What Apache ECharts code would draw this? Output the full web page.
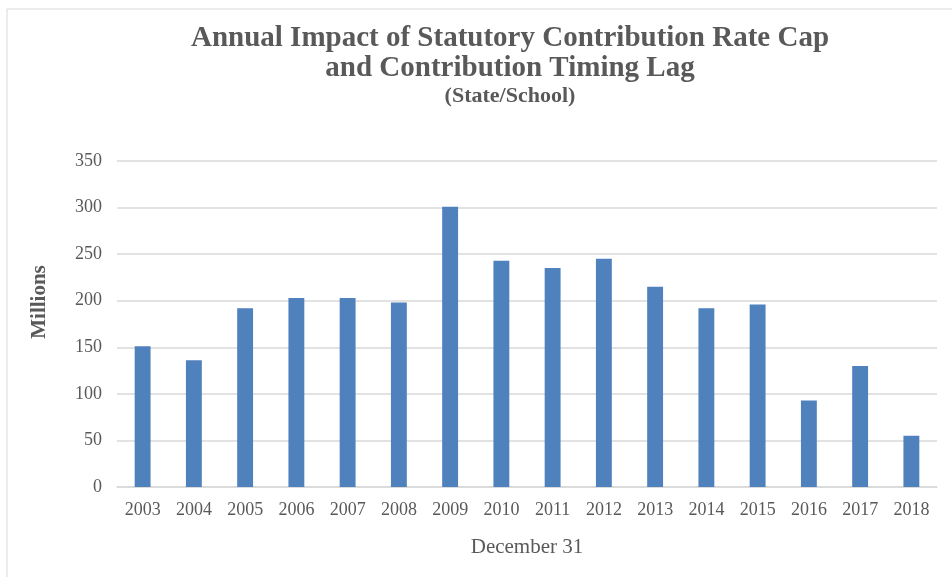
<!DOCTYPE html>
<html>
<head>
<meta charset="utf-8">
<script src="https://cdn.jsdelivr.net/npm/echarts@6/dist/echarts.min.js"></script>
<style>
  html, body { margin: 0; padding: 0; background: #fff; }
  #main { width: 952px; height: 577px; }
</style>
</head>
<body>
<div id="main"></div>
<script>
// data
var years = ['2003', '2004', '2005', '2006', '2007', '2008', '2009', '2010',
             '2011', '2012', '2013', '2014', '2015', '2016', '2017', '2018']
var impact = [151, 136, 192, 203, 203, 198, 301, 243, 235, 245, 215, 192, 196, 93, 130, 55]
var yTicks = { min: 0, max: 350, interval: 50 }

var chart = echarts.init(document.getElementById('main'))
var serif = '"Liberation Serif", "DejaVu Serif", serif'

var option = {
  backgroundColor: '#fff',
  animation: false,
  graphic: [
    {
      // light frame round the chart area
      type: 'rect',
      shape: { x: 7, y: 9, width: 960, height: 600 },
      style: { fill: 'none', stroke: '#d9d9d9', lineWidth: 1 },
      silent: true
    },
    {
      type: 'text',
      x: 40,
      y: 302,
      rotation: Math.PI / 2,
      style: {
        text: 'Millions',
        align: 'center',
        verticalAlign: 'middle',
        font: 'bold 21px ' + serif,
        fill: '#595959'
      }
    }
  ],
  title: [
    {
      text: 'Annual Impact of Statutory Contribution Rate Cap\nand Contribution Timing Lag',
      left: 505,
      textAlign: 'center',
      top: 19,
      textStyle: {
        fontFamily: serif,
        fontWeight: 'bold',
        fontSize: 29,
        lineHeight: 30,
        color: '#595959'
      }
    },
    {
      text: '(State/School)',
      left: 505,
      textAlign: 'center',
      top: 80,
      textStyle: {
        fontFamily: serif,
        fontWeight: 'bold',
        fontSize: 22,
        color: '#595959'
      }
    }
  ],
  grid: {
    left: 117,
    right: 15,
    top: 161,
    bottom: 90
  },
  xAxis: {
    type: 'category',
    data: years,
    name: 'December 31',
    nameLocation: 'middle',
    nameGap: 50,
    nameTextStyle: { fontFamily: serif, fontSize: 21, color: '#595959' },
    axisLine: { lineStyle: { color: '#d9d9d9', width: 1.5 } },
    axisTick: { show: false },
    axisLabel: { fontFamily: serif, fontSize: 18, color: '#595959', margin: 14 }
  },
  yAxis: {
    type: 'value',
    min: yTicks.min,
    max: yTicks.max,
    interval: yTicks.interval,
    axisLine: { show: false },
    axisTick: { show: false },
    axisLabel: { fontFamily: serif, fontSize: 18, color: '#595959', margin: 15 },
    splitLine: { lineStyle: { color: '#d9d9d9', width: 1.5 } }
  },
  series: [
    {
      type: 'bar',
      data: impact,
      barWidth: '31%',
      itemStyle: { color: '#4f81bd' }
    }
  ]
}

chart.setOption(option)
</script>
</body>
</html>
